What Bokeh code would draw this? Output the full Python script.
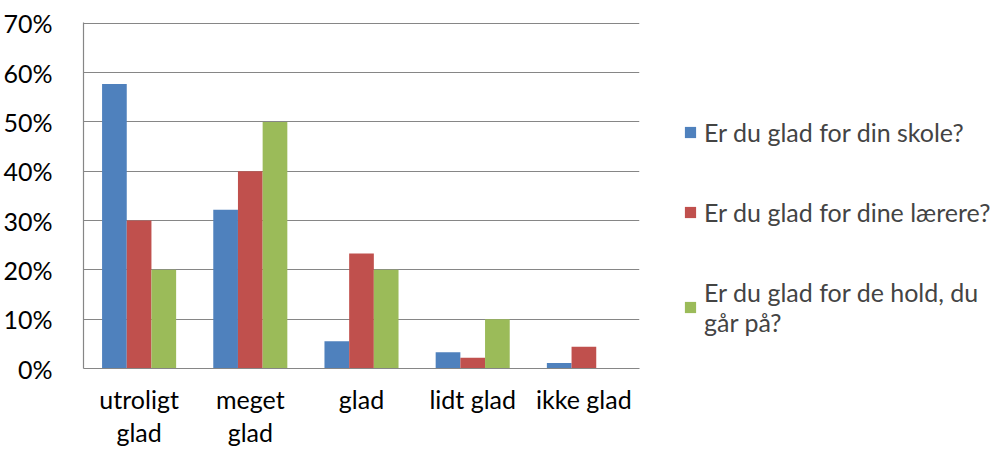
from bokeh.plotting import figure
from bokeh.models import (ColumnDataSource, FactorRange, NumeralTickFormatter, Legend, LegendItem,
                          FixedTicker, Range1d)
from bokeh.transform import dodge
from bokeh.embed import file_html
from bokeh.resources import INLINE

categories = ["utroligt\nglad", "meget\nglad", "glad", "lidt glad", "ikke glad"]
skole = [0.577, 0.322, 0.055, 0.033, 0.011]
laerere = [0.30, 0.40, 0.233, 0.022, 0.044]
hold = [0.20, 0.50, 0.20, 0.10, 0.0]
series_names = ["Er du glad for din skole?", "Er du glad for dine lærere?", "Er du glad for de hold, du\ngår på?"]
colors = ["#4F81BD", "#C0504D", "#9BBB59"]
y_ticks = [0, 0.1, 0.2, 0.3, 0.4, 0.5, 0.6, 0.7]

FONT = "Lato"
FS = "25px"

source = ColumnDataSource(dict(cat=categories, skole=skole, laerere=laerere, hold=hold))

p = figure(x_range=FactorRange(*categories, range_padding=0), y_range=Range1d(0, 0.7015),
           frame_width=556, frame_height=346, output_backend="svg", toolbar_location=None,
           min_border_left=74, min_border_right=0, min_border_top=22, min_border_bottom=0)
p.outline_line_color = None
p.background_fill_color = "white"

bw = 0.222
renderers = []
for i, (col, color) in enumerate(zip(["skole", "laerere", "hold"], colors)):
    r = p.vbar(x=dodge("cat", (i - 1) * bw, range=p.x_range), top=col, width=bw,
               source=source, fill_color=color, line_color=None)
    renderers.append(r)

p.xgrid.grid_line_color = None
p.ygrid.grid_line_color = "#868686"
p.ygrid.grid_line_width = 1.2
p.yaxis.ticker = FixedTicker(ticks=y_ticks)
p.yaxis.formatter = NumeralTickFormatter(format="0%")

for ax in (p.xaxis[0], p.yaxis[0]):
    ax.axis_line_color = "#868686"
    ax.axis_line_width = 1.2
    ax.major_tick_line_color = None
    ax.minor_tick_line_color = None
    ax.major_label_text_font = FONT
    ax.major_label_text_font_size = FS
    ax.major_label_text_color = "#000000"
p.yaxis.major_label_standoff = 25
p.xaxis.major_label_standoff = 9
p.xaxis.major_label_text_line_height = 1.1

# transparent border so that the legend padding is applied (gap between frame and legend)
legend = Legend(items=[LegendItem(label=n, renderers=[r]) for n, r in zip(series_names, renderers)],
                location="top_left", border_line_color="white", border_line_alpha=0,
                background_fill_alpha=0,
                title=" ", title_text_font=FONT, title_text_font_size=FS, title_standoff=21,
                label_text_font=FONT, label_text_font_size=FS, label_text_line_height=1.28,
                glyph_width=14, glyph_height=14,
                label_standoff=7, spacing=50, padding=44, margin=0)
p.add_layout(legend, "right")

open("out.html", "w").write(file_html(p, INLINE))
